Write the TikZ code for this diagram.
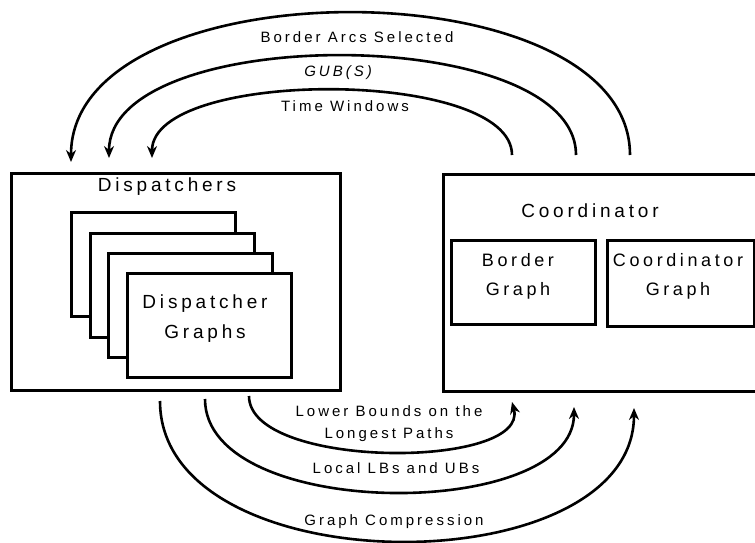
\documentclass[tikz,border=0pt]{standalone}
\usepackage{fontspec}
\setmainfont{Liberation Sans}[LetterSpace=20]
\usetikzlibrary{arrows.meta}
\begin{document}
\begin{tikzpicture}[x=1pt,y=-1pt,
  box/.style={draw, line width=3pt, fill=white, inner sep=0pt, anchor=north west},
  arc/.style={line width=2.6pt, -{Stealth[length=12pt,width=10pt]}},
  lbl/.style={font=\fontsize{15}{22}\selectfont, align=center, inner sep=0pt, anchor=base},
  big/.style={font=\fontsize{19}{30}\selectfont, align=center, inner sep=0pt, anchor=base},
  mid/.style={font=\fontsize{18}{29}\selectfont, align=center, inner sep=0pt, anchor=base}]
\useasboundingbox (0,0) rectangle (755,543);
% main boxes
\node[box, minimum width=329pt, minimum height=217pt] (disp) at (10,172) {};
\node[box, minimum width=320pt, minimum height=217pt] (coord) at (442,173) {};
% stacked dispatcher graphs
\node[box, minimum width=164pt, minimum height=104pt] (g1) at (70,211) {};
\node[box, minimum width=164pt, minimum height=104pt] (g2) at (89,232) {};
\node[box, minimum width=164pt, minimum height=104pt] (g3) at (107,252) {};
\node[box, minimum width=164pt, minimum height=104pt] (g4) at (126,272) {};
% coordinator inner boxes
\node[box, minimum width=144pt, minimum height=84pt] (bg) at (450,239) {};
\node[box, minimum width=147pt, minimum height=86pt] (cg) at (606,239) {};
% texts
\node[big] (tdisp) at (167,191) {Dispatchers};
\node[big] (tcoord) at (590,217) {Coordinator};
\node[big] (tg4) at (205,338) {Dispatcher\\Graphs};
\node[mid] (tbg) at (518,295) {Border\\Graph};
\node[mid] (tcg) at (678,295) {Coordinator\\Graph};
% top arcs (coordinator -> dispatchers)
\coordinate (a1s) at (630,155); \coordinate (a1e) at (71,162);
\coordinate (a2s) at (576,155); \coordinate (a2e) at (109,158);
\coordinate (a3s) at (512,155); \coordinate (a3e) at (152,158);
\draw[arc] (a1s) .. controls (630,-35.5) and (71,-35.5) .. (a1e);
\draw[arc] (a2s) .. controls (576,22.5) and (109,22.5) .. (a2e);
\draw[arc] (a3s) .. controls (512,68) and (152,68) .. (a3e);
\node[lbl] (l1) at (357,43) {Border Arcs Selected};
\node[lbl] (l2) at (338,77) {\itshape GUB(S)};
\node[lbl] (l3) at (345,111) {Time Windows};
% bottom arcs (dispatchers -> coordinator)
\coordinate (b1s) at (160,401); \coordinate (b1e) at (634,408);
\coordinate (b2s) at (205,399); \coordinate (b2e) at (574,407);
\coordinate (b3s) at (249,396); \coordinate (b3e) at (512,402);
\draw[arc] (b1s) .. controls (160,586.5) and (634,586.5) .. (b1e);
\draw[arc] (b2s) .. controls (205,521.7) and (574,521.7) .. (b2e);
\draw[arc] (b3s) .. controls (249,469.7) and (530,469.7) .. (b3e);
\node[lbl] (l4) at (389,438) {Lower Bounds on the\\Longest Paths};
\node[lbl] (l5) at (396,473) {Local LBs and UBs};
\node[lbl] (l6) at (394,525) {Graph Compression};
\end{tikzpicture}
\end{document}
